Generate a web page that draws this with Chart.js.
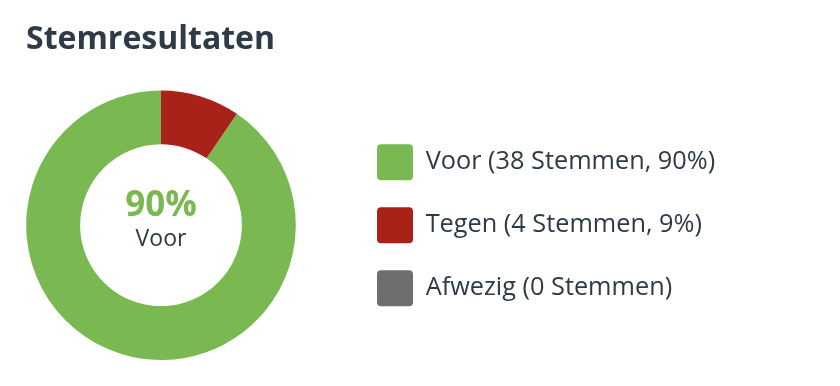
<!DOCTYPE html>
<html>
<head>
<meta charset="utf-8">
<script src="https://cdn.jsdelivr.net/npm/chart.js@4.4.1/dist/chart.umd.min.js"></script>
<style>
  html, body { margin: 0; padding: 0; background: #fff; }
  #wrap { width: 840px; height: 386px; position: relative; }
</style>
</head>
<body>
<div id="wrap"><canvas id="stemChart"></canvas></div>
<script>
var categories = ["Voor", "Tegen", "Afwezig"];
var votes = [38, 4, 0];
var colors = ['#7ab951', '#a8221a', '#6e6e6e'];
var textColor = '#2e3a46';

var total = votes.reduce(function (a, b) { return a + b; }, 0);

function pct(v) {
    return Math.floor(v / total * 100);
}

// legend texts, like "Voor (38 Stemmen, 90%)"
var legendTexts = categories.map(function (name, i) {
    var v = votes[i];
    return name + ' (' + v + ' Stemmen' + (v > 0 ? ', ' + pct(v) + '%' : '') + ')';
});

// the "Tegen" slice starts at 12 o'clock, so turn the ring by its angle
var rotation = votes[1] / total * 360;

// extra room between the ring and the legend
var legendGap = 54;
var gapPlugin = {
    id: 'legendGap',
    beforeInit: function (chart) {
        var fit = chart.legend.fit;
        chart.legend.fit = function () {
            fit.bind(chart.legend)();
            this.width += legendGap;
        };
    },
    afterLayout: function (chart) {
        // move the items back right and don't clip the long labels
        chart.legend.left += legendGap;
        chart.legend.right = chart.width;
    }
};

// big percentage in the hole
var centerText = {
    id: 'centerText',
    afterDraw: function (chart) {
        var arc = chart.getDatasetMeta(0).data[0];
        if (!arc) return;
        var ctx = chart.ctx;
        ctx.save();
        ctx.textAlign = 'center';
        ctx.textBaseline = 'alphabetic';
        ctx.fillStyle = colors[0];
        ctx.font = 'bold 35px "Open Sans"';
        ctx.fillText(pct(votes[0]) + '%', arc.x, arc.y - 9);
        ctx.fillStyle = textColor;
        ctx.font = '23px "Open Sans"';
        ctx.fillText(categories[0], arc.x, arc.y + 21);
        ctx.restore();
    }
};

function drawChart() {
    new Chart(document.getElementById('stemChart'), {
        type: 'doughnut',
        data: {
            labels: legendTexts,
            datasets: [{
                data: votes,
                backgroundColor: colors,
                borderWidth: 0,
                hoverBorderWidth: 0,
                hoverOffset: 0
            }]
        },
        options: {
            responsive: true,
            maintainAspectRatio: false,
            animation: false,
            cutout: '60%',
            rotation: rotation,
            layout: {
                padding: { left: 26, right: 166, top: 0, bottom: 26 }
            },
            plugins: {
                title: {
                    display: true,
                    text: 'Stemresultaten',
                    align: 'start',
                    color: textColor,
                    font: { family: 'Open Sans', size: 32, weight: 'bold' },
                    padding: { top: 21, bottom: 31 }
                },
                legend: {
                    position: 'right',
                    fullSize: false,
                    labels: {
                        boxWidth: 36,
                        boxHeight: 36,
                        padding: 27,
                        useBorderRadius: true,
                        borderRadius: 4,
                        color: textColor,
                        font: { family: 'Open Sans', size: 25.3 }
                    }
                },
                tooltip: { enabled: false }
            }
        },
        plugins: [gapPlugin, centerText]
    });
}

// make sure Open Sans is ready before the legend measures its text
Promise.all([
    document.fonts.load('25px "Open Sans"'),
    document.fonts.load('bold 32px "Open Sans"')
]).then(drawChart, drawChart);
</script>
</body>
</html>
